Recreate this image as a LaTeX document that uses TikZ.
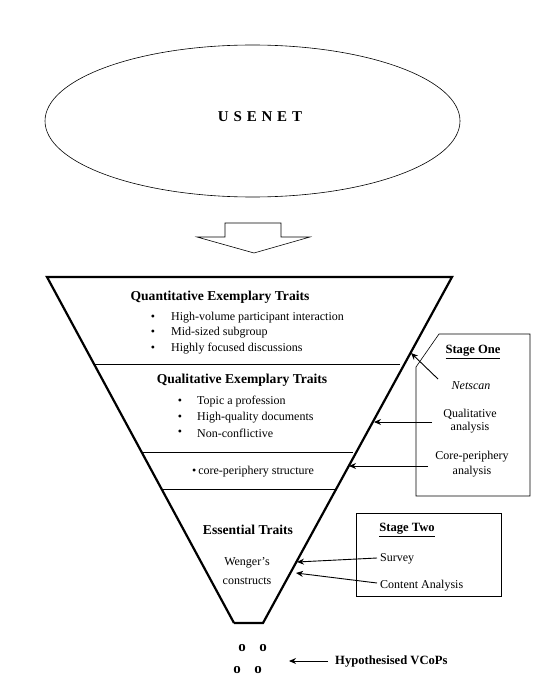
\documentclass[tikz,border=0pt]{standalone}
\usepackage{fontspec}
\setmainfont{Liberation Serif}
\usetikzlibrary{arrows.meta,shapes.geometric}
\begin{document}
\begin{tikzpicture}[x=1pt,y=-1pt,
  txt/.style={font=\fontsize{12}{14}\selectfont, inner sep=0pt, align=center},
  ltxt/.style={font=\fontsize{12}{14}\selectfont, inner sep=0pt, anchor=west},
  ttl/.style={font=\fontsize{13.6}{15}\selectfont\bfseries, inner sep=0pt},
  btl/.style={font=\fontsize{12.6}{14}\selectfont\bfseries, inner sep=0pt},
  bul/.style={font=\fontsize{12}{14}\selectfont, inner sep=0pt},
  arr/.style={-{Stealth[length=7pt,width=6pt]}, line width=0.9pt},
  thin/.style={line width=0.6pt},
  dot/.style={font=\fontsize{15}{15}\selectfont\bfseries, inner sep=0pt}]
\useasboundingbox (0,0) rectangle (540,682);

% USENET ellipse
\node[ellipse, draw, thin, minimum width=415pt, minimum height=152pt] (usenet) at (252.5,121) {};
\node[font=\fontsize{15}{15}\selectfont\bfseries, inner sep=0pt] (usenetlbl) at (260,117) {U\hspace{0.32em}S\hspace{0.32em}E\hspace{0.32em}N\hspace{0.32em}E\hspace{0.32em}T};

% block arrow
\draw[thin] (225,223) -- (281,223) -- (281,237) -- (310,237) -- (254,253) -- (197,237) -- (225,237) -- cycle;

% funnel
\coordinate (TL) at (47,277);
\coordinate (TR) at (452,277);
\coordinate (BR) at (263,623);
\coordinate (BL) at (234,623);
\draw[line width=2.2pt, line join=miter] (BL) -- (TL) -- (TR) -- (BR) -- (BL);
\path (TL) -- (BL) coordinate[pos=0.2514] (l1) coordinate[pos=0.5058] (l2) coordinate[pos=0.6127] (l3);
\path (TR) -- (BR) coordinate[pos=0.2514] (r1) coordinate[pos=0.5058] (r2) coordinate[pos=0.6127] (r3);
\draw[line width=0.8pt] (l1) -- ([xshift=-4pt]r1);
\draw[line width=0.8pt] (l2) -- ([xshift=-3pt]r2);
\draw[line width=0.8pt] (l3) -- (r3);

% section 1
\node[ttl] (quant) at (220,297) {Quantitative Exemplary Traits};
\node[bul] (b11) at (153,318) {•};
\node[bul] (b12) at (153,333) {•};
\node[bul] (b13) at (153,349) {•};
\node[ltxt] (q1) at (171,318) {High-volume participant interaction};
\node[ltxt] (q2) at (171,333) {Mid-sized subgroup};
\node[ltxt] (q3) at (171,349) {Highly focused discussions};

% section 2
\node[ttl] (qual) at (242,380) {Qualitative Exemplary Traits};
\node[bul] (b21) at (180,402) {•};
\node[bul] (b22) at (180,418) {•};
\node[bul] (b23) at (180,433) {•};
\node[ltxt] (p1) at (197,402) {Topic a profession};
\node[ltxt] (p2) at (197,418) {High-quality documents};
\node[ltxt] (p3) at (197,433) {Non-conflictive};

% section 3
\node[txt] (core) at (253,472) {•\,core-periphery structure};

% section 4
\node[ttl] (ess) at (248,530) {Essential Traits};
\node[txt, font=\fontsize{12}{18.5}\selectfont] (weng) at (247,571) {Wenger's\\constructs};

% Stage One box
\draw[thin] (439,334) -- (530,334) -- (530,496) -- (416,496) -- (416,367) -- cycle;
\node[btl] (s1) at (473,352) {\underline{Stage One}};
\node[txt, font=\fontsize{12}{14}\selectfont\itshape] (netscan) at (471,386) {Netscan};
\node[txt, font=\fontsize{12}{13.5}\selectfont] (qa) at (470,421) {Qualitative\\analysis};
\node[txt, font=\fontsize{12}{14.5}\selectfont] (cpa) at (472,464) {Core-periphery\\analysis};
\coordinate (n0) at (438,379);
\coordinate (n1) at (411,353);
\coordinate (qa0) at (432,422);
\coordinate (qa1) at (374,422);
\coordinate (cp0) at (428,466);
\coordinate (cp1) at (349,466);
\draw[arr] (n0) -- (n1);
\draw[arr] (qa0) -- (qa1);
\draw[arr] (cp0) -- (cp1);

% Stage Two box
\draw[thin] (356,513) rectangle (501,596);
\node[btl] (s2) at (407,530) {\underline{Stage Two}};
\node[ltxt] (survey) at (380,559) {Survey};
\node[ltxt] (content) at (380,586) {Content Analysis};
\coordinate (sv0) at (377,558);
\coordinate (sv1) at (297,562);
\coordinate (ct0) at (377,583);
\coordinate (ct1) at (296,573);
\draw[arr] (sv0) -- (sv1);
\draw[arr] (ct0) -- (ct1);

% hypothesised VCoPs
\node[dot] (o1) at (242,648) {o};
\node[dot] (o2) at (263,648) {o};
\node[dot] (o3) at (237,670) {o};
\node[dot] (o4) at (258,670) {o};
\node[ltxt, font=\fontsize{12.6}{14}\selectfont\bfseries] (hyp) at (335,661) {Hypothesised VCoPs};
\coordinate (h0) at (328,661);
\coordinate (h1) at (289,661);
\draw[arr] (h0) -- (h1);
\end{tikzpicture}
\end{document}
